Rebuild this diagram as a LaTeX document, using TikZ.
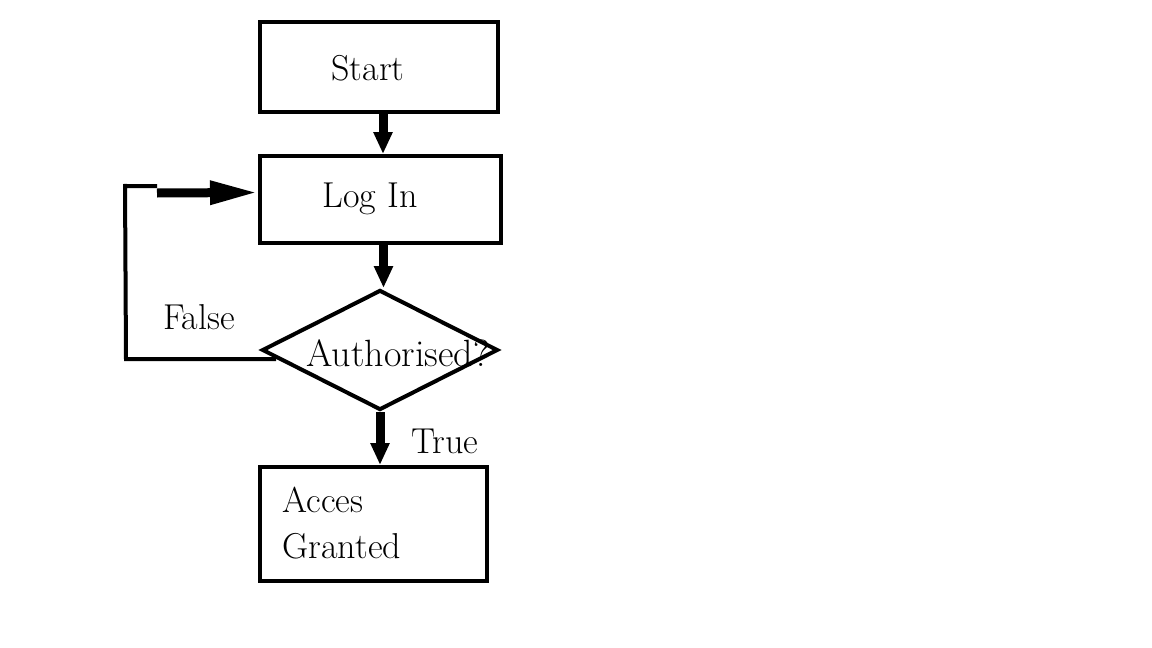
\documentclass[tikz,border=0pt]{standalone}
\usetikzlibrary{shapes.geometric,arrows.meta}
\begin{document}
\begin{tikzpicture}[x=0.5pt,y=-0.5pt,
  box/.style={draw,line width=2pt,inner sep=0pt},
  dec/.style={draw,diamond,line width=2pt,aspect=1.97,minimum width=118pt,minimum height=60pt,inner sep=0pt},
  txt/.style={inner sep=0pt,font=\fontsize{18}{23}\selectfont},
  plain/.style={line width=2pt},
  flow/.style={line width=4.5pt,-{Triangle[length=11pt,width=9pt]}},
  flowlong/.style={line width=4.5pt,-{Triangle[length=24pt,width=11pt]}}]
\useasboundingbox (0,0) rectangle (1152,648);
\node[box,minimum width=119pt,minimum height=45pt] (start) at (379,67) {};
\node[txt] (startT) at (368,68) {Start};
\node[box,minimum width=120.5pt,minimum height=43.5pt] (login) at (380.5,199.5) {};
\node[txt] (loginT) at (370,199) {Log In};
\node[dec] (auth) at (380,350) {};
\node[txt] (authT) at (398,353) {\fontsize{19}{23}\selectfont Authorised?};
\node[box,minimum width=113.5pt,minimum height=57pt] (access) at (373.5,524) {};
\node[txt,align=left,anchor=west] (accessT) at (282,523) {Acces\\Granted};
\node[txt] (falseT) at (199,317) {False};
\node[txt] (trueT) at (445,441) {True};
\coordinate (c1) at (126,359);
\coordinate (c2) at (125,184);
\coordinate (c3) at (157,186);
\coordinate (c4) at (157,193);
\draw[flow] ([xshift=2pt]start.south) -- ([xshift=2pt]start.south |- login.north);
\draw[flow] ([xshift=1.5pt]login.south) -- ([xshift=1.5pt]login.south |- auth.north);
\draw[flow] (auth.south) -- (auth.south |- access.north);
\draw[plain] ([shift={(8pt,-4.5pt)}]auth.west) -- (c1) -- (c2) |- (c3);
\draw[flowlong] (c4) -- ([yshift=3.5pt]login.west);
\end{tikzpicture}
\end{document}
